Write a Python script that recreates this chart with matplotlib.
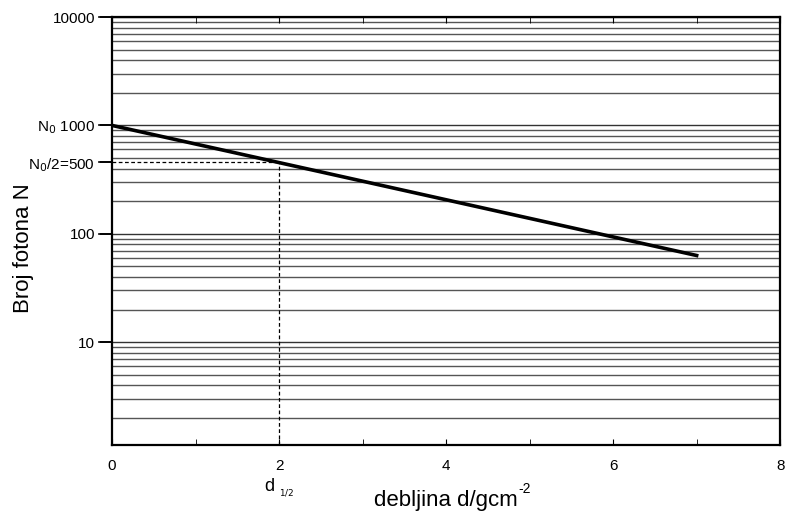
import matplotlib.pyplot as plt
from matplotlib.lines import Line2D
import numpy as np

plt.rcParams['font.family'] = ['Liberation Sans', 'DejaVu Sans']

# podaci ocitani sa slike
debljina = [0, 7]
broj_fotona = [1000, 63]
d_pola = 2
n_pola = 455

y_ticks = [10, 100, 1000, 10000, n_pola]
y_labels = ['10', '100', r'N$_0$ 1000', '10000', r'N$_0$/2=500']
x_ticks = [0, 2, 4, 6, 8]
x_minor = [1, 3, 5, 7]

fig = plt.figure(figsize=(7.87, 5.17), dpi=100)
ax = fig.add_axes([0.1423, 0.139, 0.849, 0.828])

ax.set_yscale('log')
ax.set_xlim(0, 8)
ax.set_ylim(1.12, 10000)

ax.plot(debljina, broj_fotona, color='black', linewidth=2.6, zorder=3)
ax.plot([0, d_pola], [n_pola, n_pola], color='black', linestyle=(0, (3, 2)), linewidth=0.9, zorder=2)
ax.plot([d_pola, d_pola], [1.12, n_pola], color='black', linestyle=(0, (3, 2)), linewidth=0.9, zorder=2)

# horizontalne linije mreze (log skala)
for dek in [1, 10, 100, 1000]:
    for m in range(2, 11):
        ax.axhline(dek * m, color='#333333' if m == 10 else '#555555', linewidth=1.0, zorder=1)

ax.set_xlim(0, 8)
ax.set_ylim(1.12, 10000)

ax.set_yticks(y_ticks)
ax.set_yticklabels(y_labels, fontsize=11)
ax.yaxis.set_minor_locator(plt.NullLocator())
ax.tick_params(axis='y', which='major', direction='out', length=9, width=1.2,
               color='black', pad=3)

ax.set_xticks(x_ticks)
ax.set_xticklabels([str(x) for x in x_ticks], fontsize=11)
ax.set_xticks(x_minor, minor=True)
ax.tick_params(axis='x', which='both', direction='in', length=4, top=True, pad=10)

ax.text(d_pola, -0.075, r'd $_{_{1/2}}$', transform=ax.get_xaxis_transform(),
        ha='center', va='top', fontsize=13)

for s in ax.spines.values():
    s.set_linewidth(1.6)

ax.set_ylabel('Broj fotona N', fontsize=16)
ax.yaxis.set_label_coords(-0.117, 0.46)
ax.set_xlabel('debljina d/gcm', fontsize=16, labelpad=12)

# eksponent uz jedinicu
fig.canvas.draw()
bb = ax.xaxis.label.get_window_extent()
x1, y1 = fig.transFigure.inverted().transform((bb.x1, bb.y1))
fig.text(x1 + 0.001, y1 - 0.012, '-2', fontsize=10, ha='left', va='bottom')

# crtice na y osi, dodane na razini figure
for v in y_ticks:
    fig.add_artist(Line2D([-0.019, 0], [v, v], transform=ax.get_yaxis_transform(),
                          color='black', linewidth=1.2, zorder=10))

plt.savefig('out.png', dpi=100, facecolor='white')
plt.close()
